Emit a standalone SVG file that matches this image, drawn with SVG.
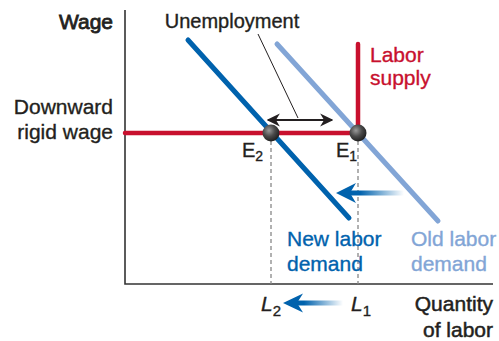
<svg xmlns="http://www.w3.org/2000/svg" width="499" height="341" viewBox="0 0 499 341">
<style>
text{font-family:"Liberation Sans",Arial,Helvetica,sans-serif;font-size:21px;fill:#231f20;stroke:#231f20;stroke-width:0.35}
.red{fill:#c8102e;stroke:#c8102e}
.dblue{fill:#0062ad;stroke:#0062ad}
.lblue{fill:#82a5d6;stroke:#82a5d6}
.heavy{stroke-width:0.8}
.mid{stroke-width:0.5}
.axis{stroke:#333;stroke-width:1.6;fill:none}
.dash{stroke:#888;stroke-width:1.3;stroke-dasharray:4 3;fill:none}
</style>
<defs>
<radialGradient id="ball" cx="0.38" cy="0.35" r="0.7">
<stop offset="0" stop-color="#9a9a9a"/>
<stop offset="0.5" stop-color="#4a4a4a"/>
<stop offset="1" stop-color="#1a1a1a"/>
</radialGradient>
<linearGradient id="fade1" x1="336" y1="0" x2="404" y2="0" gradientUnits="userSpaceOnUse">
<stop offset="0" stop-color="#0062ad"/>
<stop offset="0.35" stop-color="#0062ad"/>
<stop offset="1" stop-color="#0062ad" stop-opacity="0"/>
</linearGradient>
<linearGradient id="fade2" x1="283" y1="0" x2="343" y2="0" gradientUnits="userSpaceOnUse">
<stop offset="0" stop-color="#0062ad"/>
<stop offset="0.35" stop-color="#0062ad"/>
<stop offset="1" stop-color="#0062ad" stop-opacity="0"/>
</linearGradient>
<marker id="ah" viewBox="0 0 10 10" refX="9" refY="5" markerWidth="6" markerHeight="6" orient="auto-start-reverse" markerUnits="strokeWidth">
<path d="M0,0 L10,5 L0,10 L3,5 Z" fill="#231f20"/>
</marker>
</defs>

<g id="axes">
<path class="axis" d="M125,10 V284 H493"/>
</g>

<g id="connectors">
<line class="dash" x1="271" y1="141" x2="271" y2="284"/>
<line class="dash" x1="358" y1="141" x2="358" y2="284"/>
<line x1="258" y1="34" x2="298" y2="118" stroke="#231f20" stroke-width="1"/>
<line x1="268" y1="120" x2="332" y2="120" stroke="#231f20" stroke-width="2.2" marker-start="url(#ah)" marker-end="url(#ah)"/>
<g id="shift-demand">
<rect x="348" y="190.5" width="56" height="5" fill="url(#fade1)"/>
<path d="M336,193 L356,183 L350,193 L356,203 Z" fill="#0062ad"/>
</g>
<g id="shift-quantity">
<rect x="295" y="300.5" width="48" height="5" fill="url(#fade2)"/>
<path d="M283,303 L303,293.5 L297,303 L303,312.5 Z" fill="#0062ad"/>
</g>
</g>

<g id="old-demand">
<line x1="277" y1="44" x2="438" y2="221" stroke="#82a5d6" stroke-width="5" stroke-linecap="round"/>
<text class="lblue" x="411" y="246">Old labor</text>
<text class="lblue" x="411" y="271">demand</text>
</g>

<g id="new-demand">
<line x1="188" y1="40" x2="349" y2="218" stroke="#0062ad" stroke-width="5" stroke-linecap="round"/>
<text class="dblue" x="287" y="246">New labor</text>
<text class="dblue" x="287" y="271">demand</text>
</g>

<g id="labor-supply">
<path d="M125,133 H358 V44" fill="none" stroke="#c8102e" stroke-width="4.5" stroke-linecap="round"/>
<text class="red" x="370" y="62">Labor</text>
<text class="red" x="370" y="85">supply</text>
</g>

<g id="E2">
<circle cx="271" cy="133" r="8.5" fill="url(#ball)"/>
<text x="242" y="157" style="font-size:20px">E<tspan dy="4" style="font-size:14px">2</tspan></text>
</g>

<g id="E1">
<circle cx="358" cy="133" r="8.5" fill="url(#ball)"/>
<text x="336" y="157" style="font-size:20px">E<tspan dy="4" style="font-size:14px">1</tspan></text>
</g>

<g id="labels">
<text class="heavy" x="113" y="29" text-anchor="end">Wage</text>
<text x="113" y="114" text-anchor="end">Downward</text>
<text x="113" y="139" text-anchor="end">rigid wage</text>
<text x="232" y="28" text-anchor="middle" style="font-size:20px">Unemployment</text>
<text x="261" y="311" style="font-style:italic">L<tspan dy="5" style="font-style:normal;font-size:15px">2</tspan></text>
<text x="351" y="311" style="font-style:italic">L<tspan dy="5" style="font-style:normal;font-size:15px">1</tspan></text>
<text class="mid" x="493" y="311" text-anchor="end">Quantity</text>
<text class="mid" x="493" y="337" text-anchor="end">of labor</text>
</g>
</svg>
